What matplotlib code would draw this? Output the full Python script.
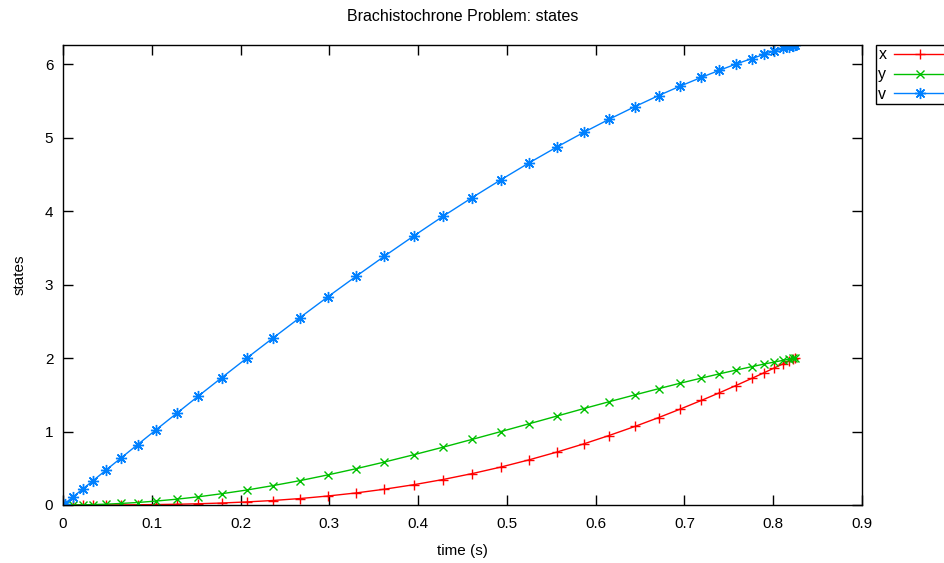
import matplotlib
matplotlib.use("Agg")
import matplotlib.pyplot as plt

plt.rcParams['font.family'] = ['Liberation Sans', 'DejaVu Sans']
plt.rcParams['font.size'] = 11

# time grid (s)
time = [0.000, 0.002, 0.011, 0.022, 0.034, 0.048, 0.065, 0.084, 0.105, 0.128,
        0.152, 0.179, 0.207, 0.236, 0.267, 0.298, 0.330, 0.362, 0.395, 0.428,
        0.461, 0.493, 0.525, 0.556, 0.587, 0.615, 0.644, 0.671, 0.695, 0.719,
        0.739, 0.758, 0.776, 0.790, 0.801, 0.811, 0.818, 0.822, 0.825]

x_state = [0.000, 0.000, 0.000, 0.000, 0.000, 0.001, 0.001, 0.003, 0.006, 0.010,
           0.017, 0.027, 0.042, 0.061, 0.088, 0.122, 0.164, 0.215, 0.276, 0.347,
           0.428, 0.516, 0.615, 0.720, 0.834, 0.946, 1.069, 1.191, 1.305, 1.424,
           1.526, 1.627, 1.725, 1.803, 1.865, 1.922, 1.963, 1.986, 2.000]

y_state = [0.000, 0.000, 0.001, 0.002, 0.006, 0.011, 0.021, 0.034, 0.054, 0.079,
           0.111, 0.154, 0.204, 0.263, 0.332, 0.409, 0.494, 0.585, 0.684, 0.787,
           0.894, 0.999, 1.106, 1.210, 1.314, 1.406, 1.499, 1.584, 1.658, 1.728,
           1.785, 1.837, 1.884, 1.920, 1.946, 1.970, 1.986, 1.995, 2.000]

v_state = [0.000, 0.020, 0.108, 0.216, 0.333, 0.471, 0.637, 0.822, 1.026, 1.248,
           1.479, 1.736, 2.000, 2.269, 2.553, 2.832, 3.113, 3.388, 3.663, 3.931,
           4.187, 4.427, 4.659, 4.873, 5.077, 5.252, 5.424, 5.576, 5.703, 5.823,
           5.918, 6.004, 6.080, 6.137, 6.180, 6.217, 6.243, 6.257, 6.264]

series_names = ['x', 'y', 'v']
title_text = 'Brachistochrone Problem: states'
xlabel_text = 'time (s)'
ylabel_text = 'states'
xticks = [0, 0.1, 0.2, 0.3, 0.4, 0.5, 0.6, 0.7, 0.8, 0.9]
xtick_labels = ['0', '0.1', '0.2', '0.3', '0.4', '0.5', '0.6', '0.7', '0.8', '0.9']
yticks = [0, 1, 2, 3, 4, 5, 6]

fig = plt.figure(figsize=(9.44, 5.63), dpi=100)
ax = fig.add_axes([63/944, 1-505/563, (862-63)/944, (505-45)/563])

ax.plot(time, x_state, color='#ff0000', lw=1, marker='+', ms=7.5, mew=1, label=series_names[0])
ax.plot(time, y_state, color='#00c000', lw=1, marker='x', ms=6, mew=1, label=series_names[1])
ax.plot(time, v_state, color='#0080ff', lw=1, marker=(8, 2, 0), ms=8, mew=1, label=series_names[2])

ax.set_xlim(0, 0.9)
ax.set_ylim(0, max(v_state))
ax.set_xticks(xticks)
ax.set_xticklabels(xtick_labels)
ax.set_yticks(yticks)
ax.tick_params(direction='in', length=7, width=1, top=True, right=True)
ax.tick_params(axis='x', pad=8.5)
ax.tick_params(axis='y', pad=7)
for s in ax.spines.values():
    s.set_linewidth(1)
    s.set_color('black')

ax.set_title(title_text, fontsize=11.5, pad=17)
ax.set_xlabel(xlabel_text, labelpad=9.5)
ax.set_ylabel(ylabel_text, labelpad=13)

leg = fig.legend(loc='upper left', bbox_to_anchor=(876/944, 1-45/563),
                 markerfirst=False, frameon=True, fancybox=False,
                 edgecolor='black', framealpha=1, fontsize=11.5,
                 handlelength=3.2, handletextpad=0.5, borderpad=0.15,
                 labelspacing=0.3, borderaxespad=0)
leg.get_frame().set_linewidth(1)

fig.savefig('out.png', dpi=100)
